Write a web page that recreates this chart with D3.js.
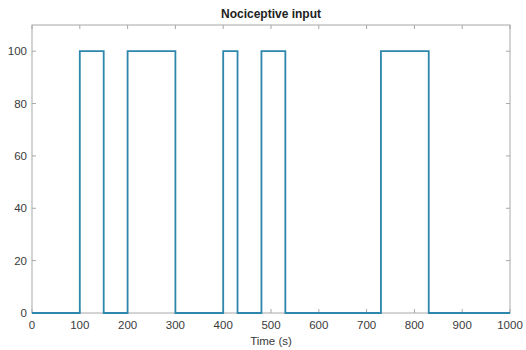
<!DOCTYPE html>
<html>
<head>
<meta charset="utf-8">
<script src="https://cdn.jsdelivr.net/npm/d3@7"></script>
<style>
  body { margin: 0; background: #fff; }
  svg { display: block; font-family: "Liberation Sans", Arial, sans-serif; }
</style>
</head>
<body>
<svg width="526" height="350"></svg>
<script>
// pulse on/off times (s) and the input level
const pulseStarts = [100, 200, 400, 480, 730];
const pulseEnds = [150, 300, 430, 530, 830];
const pulseLevel = 100;
const xTicks = [0, 100, 200, 300, 400, 500, 600, 700, 800, 900, 1000];
const yTicks = [0, 20, 40, 60, 80, 100];

const svg = d3.select('svg');
const margin = { top: 25, right: 16, bottom: 37, left: 32 };
const width = +svg.attr('width') - margin.left - margin.right;
const height = +svg.attr('height') - margin.top - margin.bottom;

const lineColor = '#2d86ab';
const boxColor = '#a8a8a8';
const textColor = '#3a3a3a';

const x = d3.scaleLinear().domain([0, 1000]).range([0, width]);
const y = d3.scaleLinear().domain([0, 110]).range([height, 0]);

const g = svg.append('g').attr('transform', `translate(${margin.left},${margin.top})`);

// build the step signal from the pulses
let signal = [[0, 0]];
pulseStarts.forEach((s, i) => {
    signal.push([s, 0], [s, pulseLevel], [pulseEnds[i], pulseLevel], [pulseEnds[i], 0]);
});
signal.push([1000, 0]);

// box
g.append('rect')
    .attr('width', width)
    .attr('height', height)
    .attr('fill', 'none')
    .attr('stroke', boxColor)
    .attr('stroke-width', 1);

// inward ticks on all four sides
const tickLen = 4;
g.selectAll('.xt-b').data(xTicks).enter().append('line')
    .attr('x1', d => x(d)).attr('x2', d => x(d))
    .attr('y1', height).attr('y2', height - tickLen)
    .attr('stroke', boxColor);
g.selectAll('.xt-t').data(xTicks).enter().append('line')
    .attr('x1', d => x(d)).attr('x2', d => x(d))
    .attr('y1', 0).attr('y2', tickLen)
    .attr('stroke', boxColor);
g.selectAll('.yt-l').data(yTicks).enter().append('line')
    .attr('x1', 0).attr('x2', tickLen)
    .attr('y1', d => y(d)).attr('y2', d => y(d))
    .attr('stroke', boxColor);
g.selectAll('.yt-r').data(yTicks).enter().append('line')
    .attr('x1', width).attr('x2', width - tickLen)
    .attr('y1', d => y(d)).attr('y2', d => y(d))
    .attr('stroke', boxColor);

// tick labels
g.selectAll('.xl').data(xTicks).enter().append('text')
    .attr('x', d => x(d))
    .attr('y', height + 16)
    .attr('text-anchor', 'middle')
    .attr('font-size', 11.5)
    .attr('fill', textColor)
    .text(d => d);
g.selectAll('.yl').data(yTicks).enter().append('text')
    .attr('x', -5)
    .attr('y', d => y(d) + 4)
    .attr('text-anchor', 'end')
    .attr('font-size', 11.5)
    .attr('fill', textColor)
    .text(d => d);

// signal
g.append('path')
    .datum(signal)
    .attr('fill', 'none')
    .attr('stroke', lineColor)
    .attr('stroke-width', 1.8)
    .attr('d', d3.line().x(d => x(d[0])).y(d => y(d[1])));

// title and axis label
svg.append('text')
    .attr('x', margin.left + width / 2)
    .attr('y', 18)
    .attr('text-anchor', 'middle')
    .attr('font-size', 12)
    .attr('font-weight', 'bold')
    .attr('fill', '#222')
    .text('Nociceptive input');
svg.append('text')
    .attr('x', margin.left + width / 2)
    .attr('y', margin.top + height + 32)
    .attr('text-anchor', 'middle')
    .attr('font-size', 11.5)
    .attr('fill', textColor)
    .text('Time (s)');
</script>
</body>
</html>
